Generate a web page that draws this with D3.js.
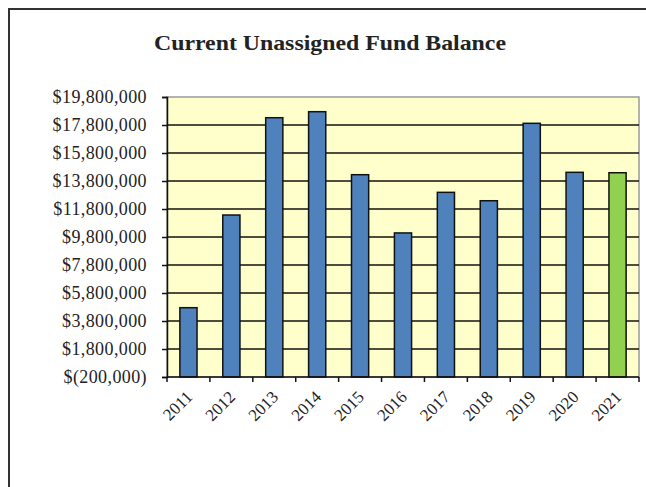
<!DOCTYPE html>
<html lang="en">
<head>
    <meta charset="UTF-8">
    <title>Current Unassigned Fund Balance</title>
    <script src="https://d3js.org/d3.v7.min.js"></script>
    <style>
        body { margin: 0; background: #fff; }
        text { font-family: "Liberation Serif", "Times New Roman", serif; fill: #222; }
    </style>
</head>
<body>
    <div id="chart"></div>
    <script>
        // data
        const years = ["2011", "2012", "2013", "2014", "2015", "2016", "2017", "2018", "2019", "2020", "2021"];
        const balances = [4750000, 11370000, 18320000, 18750000, 14250000, 10090000, 12990000, 12390000, 17920000, 14420000, 14390000];
        const yTicks = [-200000, 1800000, 3800000, 5800000, 7800000, 9800000, 11800000, 13800000, 15800000, 17800000, 19800000];
        const barColours = ["#4F81BD", "#4F81BD", "#4F81BD", "#4F81BD", "#4F81BD", "#4F81BD", "#4F81BD", "#4F81BD", "#4F81BD", "#4F81BD", "#92D050"];

        const W = 646, H = 487;
        const plot = { left: 167, right: 639, top: 97, bottom: 377 };

        const svg = d3.select("#chart").append("svg")
            .attr("width", W)
            .attr("height", H);

        // outer frame (only top and left visible)
        svg.append("path")
            .attr("d", `M9,${H} V9 H${W}`)
            .attr("fill", "none")
            .attr("stroke", "#333")
            .attr("stroke-width", 2);

        // title
        svg.append("text")
            .attr("x", 330)
            .attr("y", 50)
            .attr("text-anchor", "middle")
            .attr("textLength", 352)
            .attr("lengthAdjust", "spacingAndGlyphs")
            .style("font-weight", "bold")
            .style("font-size", "21px")
            .text("Current Unassigned Fund Balance");

        const x = d3.scaleBand()
            .domain(years)
            .range([plot.left, plot.right])
            .paddingInner(0.6)
            .paddingOuter(0.3);

        const y = d3.scaleLinear()
            .domain([yTicks[0], yTicks[yTicks.length - 1]])
            .range([plot.bottom, plot.top]);

        // plot background
        svg.append("rect")
            .attr("x", plot.left)
            .attr("y", plot.top)
            .attr("width", plot.right - plot.left)
            .attr("height", plot.bottom - plot.top)
            .attr("fill", "#FFFFCC")
            .attr("stroke", "#999")
            .attr("stroke-width", 1.5);

        // gridlines
        svg.append("g")
            .selectAll("line")
            .data(yTicks.slice(1, -1))
            .join("line")
            .attr("x1", plot.left)
            .attr("x2", plot.right)
            .attr("y1", d => y(d))
            .attr("y2", d => y(d))
            .attr("stroke", "#111")
            .attr("stroke-width", 1.5);

        // bars
        svg.append("g")
            .selectAll("rect")
            .data(years)
            .join("rect")
            .attr("x", d => x(d))
            .attr("y", (d, i) => y(balances[i]))
            .attr("width", x.bandwidth())
            .attr("height", (d, i) => y(yTicks[0]) - y(balances[i]))
            .attr("fill", (d, i) => barColours[i])
            .attr("stroke", "#111")
            .attr("stroke-width", 1.5);

        // y axis
        const fmt = d3.format(",");
        const yAxis = d3.axisLeft(y)
            .tickValues(yTicks)
            .tickSize(5)
            .tickPadding(15)
            .tickFormat(d => d < 0 ? "$(" + fmt(-d) + ")" : "$" + fmt(d));
        const gy = svg.append("g")
            .attr("transform", `translate(${plot.left},0)`)
            .call(yAxis);
        gy.select(".domain").attr("stroke", "#111").attr("stroke-width", 1.5);
        gy.selectAll(".tick line").attr("stroke", "#111").attr("stroke-width", 1.5);
        gy.selectAll("text")
            .style("font-size", "18px")
            .style("letter-spacing", "0.4px")
            .attr("fill", "#222");

        // x axis: ticks between categories
        const step = x.step();
        const boundaries = d3.range(years.length + 1).map(i => plot.left + i * step);
        svg.append("line")
            .attr("x1", plot.left)
            .attr("x2", plot.right)
            .attr("y1", plot.bottom)
            .attr("y2", plot.bottom)
            .attr("stroke", "#111")
            .attr("stroke-width", 1.5);
        svg.append("g")
            .selectAll("line")
            .data(boundaries)
            .join("line")
            .attr("x1", d => d)
            .attr("x2", d => d)
            .attr("y1", plot.bottom)
            .attr("y2", plot.bottom + 5)
            .attr("stroke", "#111")
            .attr("stroke-width", 1.5);

        svg.append("g")
            .selectAll("text")
            .data(years)
            .join("text")
            .attr("transform", d => `translate(${x(d) + x.bandwidth() / 2 + 5},${plot.bottom + 21}) rotate(-45)`)
            .attr("text-anchor", "end")
            .style("font-size", "17px")
            .text(d => d);
    </script>
</body>
</html>
